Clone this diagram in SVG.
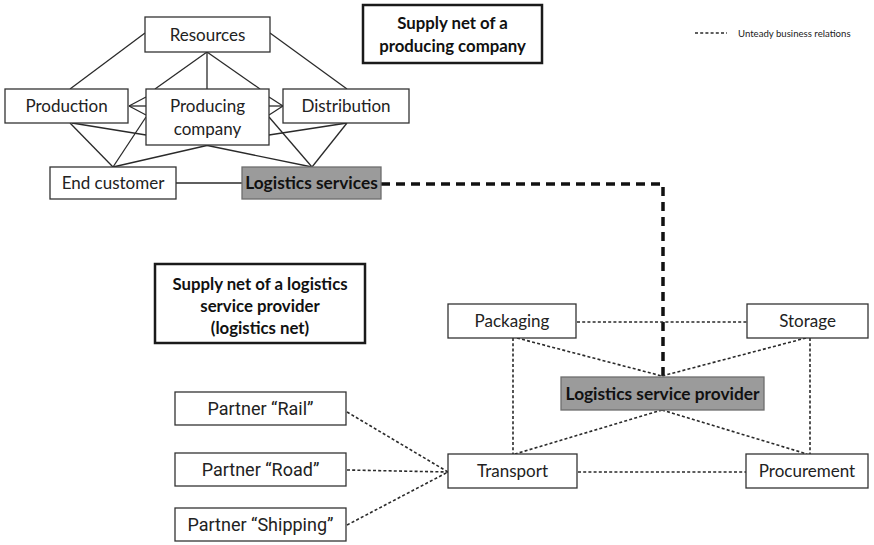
<svg xmlns="http://www.w3.org/2000/svg" width="874" height="545" viewBox="0 0 874 545">
  <style>
    .box { fill: #ffffff; stroke: #333333; stroke-width: 1.3; }
    .frame { fill: #ffffff; stroke: #1a1a1a; stroke-width: 2.5; }
    .grey { fill: #9b9b9b; stroke: #6e6e6e; stroke-width: 1.3; }
    .lbl { font-family: Lato, "Liberation Sans", sans-serif; font-size: 17px; fill: #222222; text-anchor: middle; }
    .bold { font-family: Lato, "Liberation Sans", sans-serif; font-size: 17.3px; font-weight: bold; fill: #111111; text-anchor: middle; }
    .title { font-family: Lato, "Liberation Sans", sans-serif; font-size: 16.8px; font-weight: bold; fill: #111111; text-anchor: middle; }
    .partner { font-family: Roboto, "Liberation Sans", sans-serif; font-size: 18px; fill: #222222; text-anchor: middle; }
    .legend { font-family: Lato, "Liberation Sans", sans-serif; font-size: 9.6px; fill: #222222; }
    .solid { stroke: #2a2a2a; stroke-width: 1.3; fill: none; }
    .dotted { stroke: #2a2a2a; stroke-width: 1.6; stroke-dasharray: 3 2.2; fill: none; }
    .heavy { stroke: #111111; stroke-width: 3.5; stroke-dasharray: 9 6; fill: none; }
  </style>

  <!-- connectors -->
  <g id="connectors">
    <!-- producing company net (solid) -->
    <line class="solid" x1="145" y1="33" x2="70" y2="89"/>
    <line class="solid" x1="270" y1="33" x2="347" y2="89"/>
    <line class="solid" x1="207" y1="52" x2="155" y2="89"/>
    <line class="solid" x1="207" y1="52" x2="207" y2="89"/>
    <line class="solid" x1="207" y1="52" x2="260" y2="89"/>
    <line class="solid" x1="129" y1="106" x2="146" y2="97"/>
    <line class="solid" x1="129" y1="106" x2="146" y2="106"/>
    <line class="solid" x1="129" y1="106" x2="146" y2="115"/>
    <line class="solid" x1="283" y1="106" x2="269" y2="97"/>
    <line class="solid" x1="283" y1="106" x2="269" y2="106"/>
    <line class="solid" x1="283" y1="106" x2="269" y2="115"/>
    <line class="solid" x1="70" y1="123" x2="113" y2="167"/>
    <line class="solid" x1="72" y1="123" x2="146" y2="135"/>
    <line class="solid" x1="113" y1="167" x2="146" y2="117"/>
    <line class="solid" x1="113" y1="167" x2="209" y2="145"/>
    <line class="solid" x1="205" y1="145" x2="312" y2="167"/>
    <line class="solid" x1="269" y1="117" x2="312" y2="167"/>
    <line class="solid" x1="347" y1="123" x2="312" y2="167"/>
    <line class="solid" x1="347" y1="123" x2="269" y2="135"/>
    <line class="solid" x1="176" y1="183" x2="242" y2="183"/>

    <!-- link between the two nets -->
    <polyline class="heavy" points="381,184 663,184 663,376"/>

    <!-- logistics net (dotted) -->
    <line class="dotted" x1="577" y1="322" x2="747" y2="322"/>
    <line class="dotted" x1="513" y1="338" x2="513" y2="454"/>
    <line class="dotted" x1="810" y1="338" x2="810" y2="454"/>
    <line class="dotted" x1="517" y1="338" x2="662" y2="376"/>
    <line class="dotted" x1="806" y1="338" x2="662" y2="376"/>
    <line class="dotted" x1="662" y1="410" x2="515" y2="454"/>
    <line class="dotted" x1="662" y1="410" x2="807" y2="454"/>
    <line class="dotted" x1="578" y1="472" x2="746" y2="472"/>
    <line class="dotted" x1="347" y1="412" x2="448" y2="472"/>
    <line class="dotted" x1="347" y1="470" x2="448" y2="472"/>
    <line class="dotted" x1="347" y1="525" x2="448" y2="472"/>
  </g>

  <!-- producing company net -->
  <g id="resources">
    <rect class="box" x="145" y="17" width="125" height="35"/>
    <text class="lbl" x="207.5" y="41">Resources</text>
  </g>
  <g id="production">
    <rect class="box" x="5" y="89" width="123" height="34"/>
    <text class="lbl" x="66.5" y="112">Production</text>
  </g>
  <g id="producing-company">
    <rect class="box" x="146" y="89" width="123" height="56"/>
    <text class="lbl" x="207.5" y="112">Producing</text>
    <text class="lbl" x="207.5" y="135">company</text>
  </g>
  <g id="distribution">
    <rect class="box" x="283" y="89" width="126" height="34"/>
    <text class="lbl" x="346" y="112">Distribution</text>
  </g>
  <g id="end-customer">
    <rect class="box" x="50" y="167" width="126" height="32"/>
    <text class="lbl" x="113" y="189">End customer</text>
  </g>
  <g id="logistics-services">
    <rect class="grey" x="242" y="167" width="139" height="32"/>
    <text class="bold" x="311.5" y="189">Logistics services</text>
  </g>

  <!-- titles and legend -->
  <g id="title-producing">
    <rect class="frame" x="363" y="5" width="179" height="58"/>
    <text class="title" x="452.5" y="29">Supply net of a</text>
    <text class="title" x="452.5" y="52">producing company</text>
  </g>
  <g id="legend">
    <line class="dotted" x1="695" y1="33" x2="727" y2="33" stroke-width="1.3"/>
    <text class="legend" x="738" y="36.5">Unteady business relations</text>
  </g>
  <g id="title-logistics">
    <rect class="frame" x="155" y="264" width="210" height="79"/>
    <text class="title" x="260" y="290">Supply net of a logistics</text>
    <text class="title" x="260" y="312">service provider</text>
    <text class="title" x="260" y="334">(logistics net)</text>
  </g>

  <!-- logistics net -->
  <g id="packaging">
    <rect class="box" x="448" y="304" width="128" height="34"/>
    <text class="lbl" x="512" y="327">Packaging</text>
  </g>
  <g id="storage">
    <rect class="box" x="747" y="304" width="121" height="34"/>
    <text class="lbl" x="807.5" y="327">Storage</text>
  </g>
  <g id="logistics-service-provider">
    <rect class="grey" x="561" y="377" width="203" height="33"/>
    <text class="bold" x="662.5" y="400">Logistics service provider</text>
  </g>
  <g id="transport">
    <rect class="box" x="448" y="454" width="129" height="34"/>
    <text class="lbl" x="512.5" y="477">Transport</text>
  </g>
  <g id="procurement">
    <rect class="box" x="746" y="454" width="122" height="34"/>
    <text class="lbl" x="807" y="477">Procurement</text>
  </g>
  <g id="partner-rail">
    <rect class="box" x="175" y="392" width="171" height="33"/>
    <text class="partner" x="260.5" y="415">Partner “Rail”</text>
  </g>
  <g id="partner-road">
    <rect class="box" x="175" y="453" width="171" height="33"/>
    <text class="partner" x="260.5" y="476">Partner “Road”</text>
  </g>
  <g id="partner-shipping">
    <rect class="box" x="175" y="508" width="171" height="33"/>
    <text class="partner" x="260.5" y="531">Partner “Shipping”</text>
  </g>
</svg>
